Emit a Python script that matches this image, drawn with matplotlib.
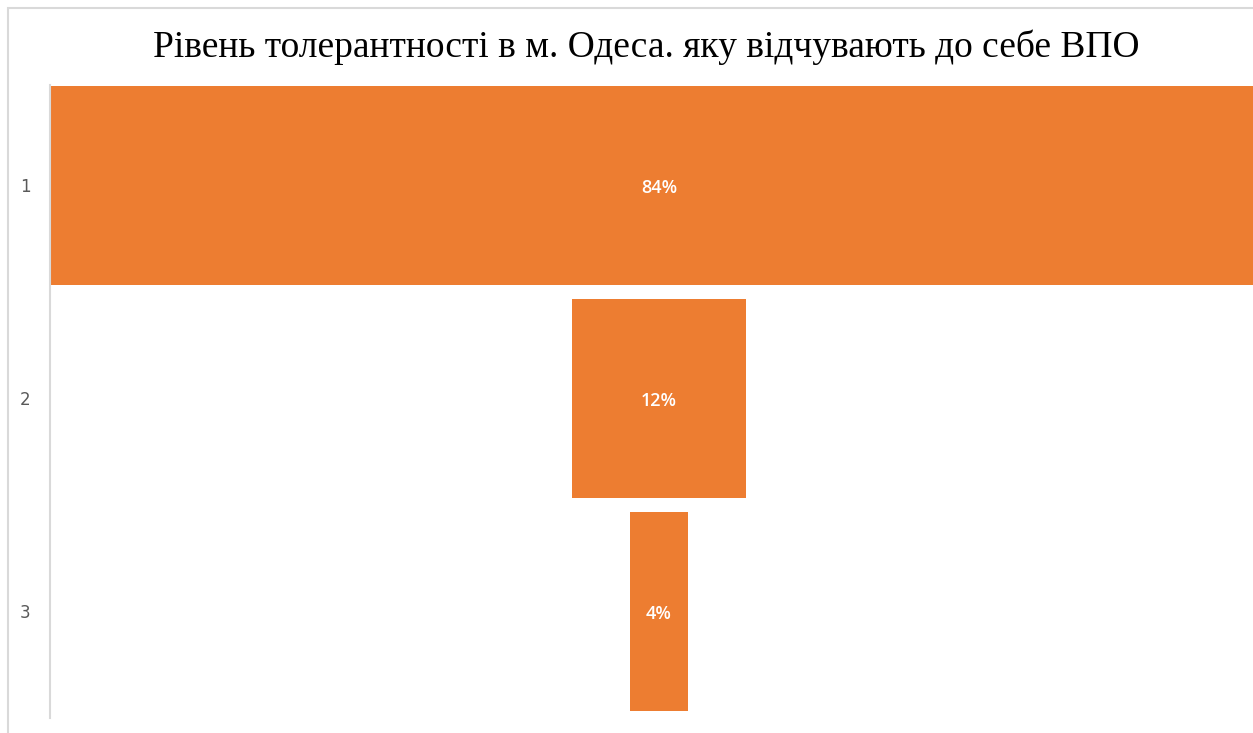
import matplotlib.pyplot as plt
from matplotlib.patches import Rectangle

categories = ['1', '2', '3']
values = [84, 12, 4]
labels = ['84%', '12%', '4%']

fig = plt.figure(figsize=(12.53, 7.33), dpi=100)
ax = fig.add_axes([50 / 1253, 1 - 718 / 733, 1 - 50 / 1253, (718 - 85) / 733])

pos = list(range(len(values)))
lefts = [-v / 2 for v in values]
ax.barh(pos, values, left=lefts, height=0.935, color='#ED7D31')

for p, v, t in zip(pos, values, labels):
    ax.text(0, p + 0.012, t, ha='center', va='center', color='white',
            fontsize=13, fontweight='semibold', family='Open Sans')

ax.set_xlim(-42, 40.97)
ax.set_ylim(2.5, -0.47)
ax.set_yticks(pos)
ax.set_yticklabels(categories, color='#595959', fontsize=12)
ax.tick_params(axis='y', length=0, pad=14)
ax.set_xticks([])
for s in ['top', 'right', 'bottom']:
    ax.spines[s].set_visible(False)
ax.spines['left'].set_color('#d9d9d9')
ax.spines['left'].set_linewidth(1.5)

# chart border
fig.patches.append(Rectangle((8 / 1253, -0.1), 1.2, 1 - 8 / 733 + 0.1,
                             transform=fig.transFigure, fill=False,
                             edgecolor='#d9d9d9', linewidth=1.5))

fig.text(646 / 1253, 1 - 47 / 733,
         'Рівень толерантності в м. Одеса. яку відчувають до себе ВПО',
         ha='center', va='center', fontsize=27, family='Liberation Serif')

fig.savefig('out.png', dpi=100)
